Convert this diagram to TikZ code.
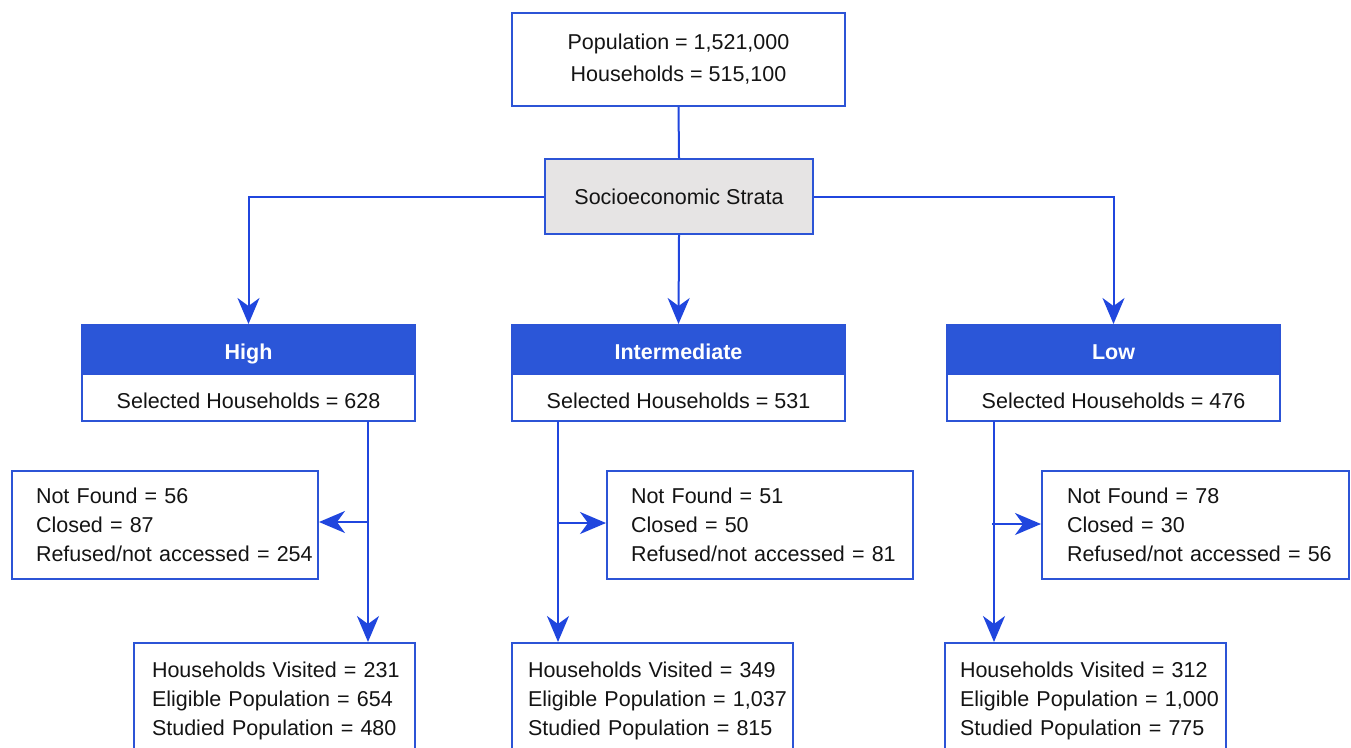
\documentclass[tikz,border=0pt]{standalone}
\usepackage{fontspec}
\setmainfont{Liberation Sans}
\usetikzlibrary{arrows.meta,calc}
\definecolor{bblue}{RGB}{44,84,214}
\definecolor{hblue}{RGB}{43,86,216}
\definecolor{cblue}{RGB}{32,70,222}
\definecolor{sgray}{RGB}{230,228,228}
\definecolor{ink}{RGB}{20,20,20}
\begin{document}
\begin{tikzpicture}[x=1pt,y=-1pt,
  box/.style={draw=bblue, line width=2pt, fill=white, inner sep=0pt, text=ink,
    font=\fontsize{21.5}{29}\selectfont},
  headbox/.style={box, fill=hblue, text=white, minimum width=333, minimum height=49,
    text height=20.4, text depth=0,
    font=\fontsize{21.5}{29}\selectfont\bfseries},
  bodybox/.style={box, minimum width=333, minimum height=47, text height=22.4, text depth=0},
  sidebox/.style={box, minimum height=108, align=left},
  botbox/.style={box, minimum height=116, align=left},
  conn/.style={draw=cblue, line width=2pt},
  arr/.style={conn, -{Stealth[length=26pt,width=22pt,inset=8pt]}}]
\useasboundingbox (0,0) rectangle (1351,747);

% top
\node[box, minimum width=333, minimum height=93, align=center,
  font=\fontsize{21.5}{32}\selectfont] (top) at (678.5,59.5)
  {Population = 1,521,000\\Households = 515,100};
\node[box, fill=sgray, minimum width=268, minimum height=75] (strata) at (679,196.5)
  {Socioeconomic Strata};

% strata headers
\node[headbox] (hH) at (248.5,349.5) {High};
\node[bodybox] (hB) at (248.5,397.5) {Selected Households = 628};
\node[headbox] (iH) at (678.5,349.5) {Intermediate};
\node[bodybox] (iB) at (678.5,397.5) {Selected Households = 531};
\node[headbox] (lH) at (1113.5,349.5) {Low};
\node[bodybox] (lB) at (1113.5,397.5) {Selected Households = 476};

% side boxes
\node[sidebox, text width=258, inner xsep=24] (hS) at (165,525)
  {\mbox{Not Found = 56}\\\mbox{Closed = 87}\\\mbox{Refused/not accessed = 254}};
\node[sidebox, text width=258, inner xsep=24] (iS) at (760,525)
  {\mbox{Not Found = 51}\\\mbox{Closed = 50}\\\mbox{Refused/not accessed = 81}};
\node[sidebox, text width=257, inner xsep=25] (lS) at (1195.5,525)
  {\mbox{Not Found = 78}\\\mbox{Closed = 30}\\\mbox{Refused/not accessed = 56}};

% bottom boxes
\node[botbox, text width=245, inner xsep=18] (hR) at (274.5,701)
  {\mbox{Households Visited = 231}\\\mbox{Eligible Population = 654}\\\mbox{Studied Population = 480}};
\node[botbox, text width=249, inner xsep=16] (iR) at (652.5,701)
  {\mbox{Households Visited = 349}\\\mbox{Eligible Population = 1,037}\\\mbox{Studied Population = 815}};
\node[botbox, text width=251, inner xsep=15] (lR) at (1085.5,701)
  {\mbox{Households Visited = 312}\\\mbox{Eligible Population = 1,000}\\\mbox{Studied Population = 775}};

% connectors top
\draw[conn] (top.south) -- (strata.north);
\draw[arr] (strata.west) -| (hH.north);
\draw[arr] (strata.south) -- (iH.north);
\draw[arr] (strata.east) -| (lH.north);

% branch points
\coordinate (hv) at (368,421);
\coordinate (iv) at (558,421);
\coordinate (lv) at (994,421);

\draw[arr] (hv) -- (hv |- hR.north);
\draw[arr] ($(hv |- hS.east)+(0,-3)$) -- ($(hS.east)+(0,-3)$);
\draw[arr] (iv) -- (iv |- iR.north);
\draw[arr] ($(iv |- iS.west)+(0,-2)$) -- ($(iS.west)+(0,-2)$);
\draw[arr] (lv) -- (lv |- lR.north);
\draw[arr] ($(lv |- lS.west)+(-2,-1)$) -- ($(lS.west)+(0,-1)$);
\end{tikzpicture}
\end{document}
